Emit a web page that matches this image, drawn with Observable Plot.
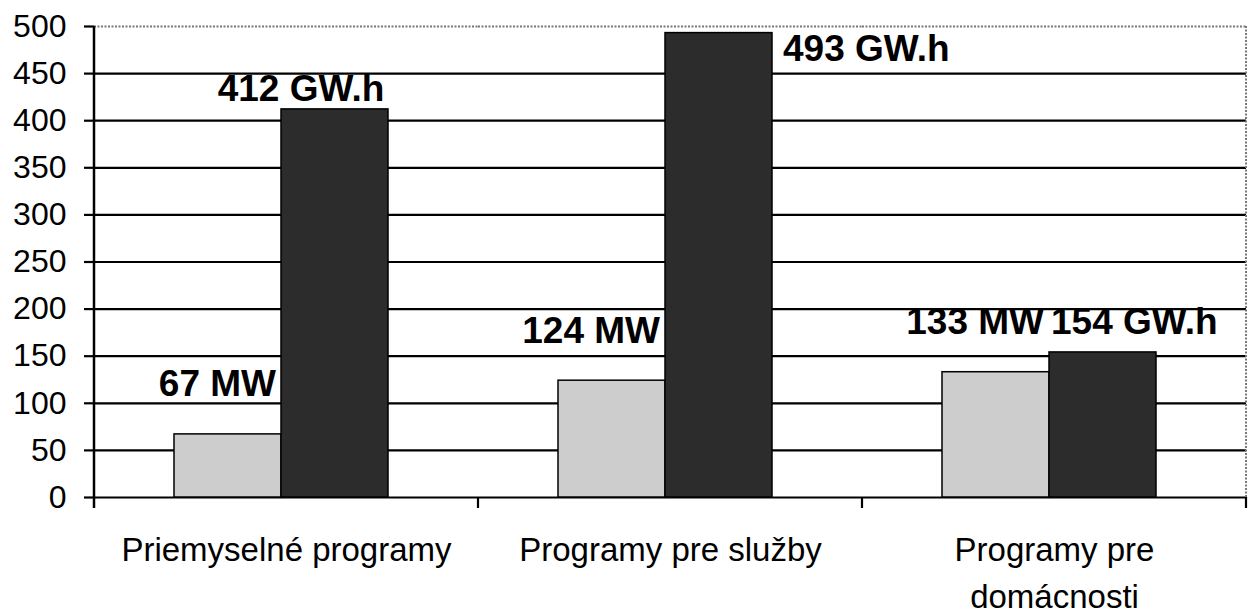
<!DOCTYPE html>
<html>
<head>
<meta charset="utf-8">
<script src="https://cdn.jsdelivr.net/npm/d3@7"></script>
<script src="https://cdn.jsdelivr.net/npm/@observablehq/plot@0.6"></script>
<style>
  html, body { margin: 0; padding: 0; background: #fff; }
</style>
</head>
<body>
<div id="chart"></div>
<script>
const categories = ["Priemyselné programy", "Programy pre služby", "Programy pre domácnosti"];
const categoryTickLabels = ["Priemyselné programy", "Programy pre služby", "Programy pre\ndomácnosti"];
const series = ["MW", "GW.h"];
const mwValues = [67, 124, 133];
const gwhValues = [412, 493, 154];
const yTicks = [0, 50, 100, 150, 200, 250, 300, 350, 400, 450, 500];

const mwData = categories.map((c, i) => ({cat: c, series: "MW", value: mwValues[i], label: `${mwValues[i]} MW`}));
const gwhData = categories.map((c, i) => ({cat: c, series: "GW.h", value: gwhValues[i], other: mwValues[i], label: `${gwhValues[i]} GW.h`}));
const data = mwData.concat(gwhData);
const yMax = yTicks[yTicks.length - 1];

const font = "'Liberation Sans', Arial, sans-serif";
const labelStyle = {fontWeight: "bold", fontSize: 37};

// label placement rules
const isTall = d => d.value >= yMax * 0.9;
const isNear = d => !isTall(d) && Math.abs(d.value - d.other) < 60;
const isNormal = d => !isTall(d) && !isNear(d);

const plot = Plot.plot({
  width: 1259,
  height: 614,
  marginLeft: 93,
  marginRight: 12,
  marginTop: 26,
  marginBottom: 117,
  style: {fontFamily: font, background: "#fff", color: "#000", overflow: "visible"},
  fx: {domain: categories, padding: 0, label: null},
  x: {domain: series, paddingInner: 0, paddingOuter: 0.78, align: 0.47, axis: null},
  y: {domain: [0, yMax], label: null},
  color: {domain: series, range: ["#cdcdcd", "#2c2c2c"]},
  marks: [
    Plot.ruleY(yTicks.filter(d => d < yMax), {stroke: "#000", strokeWidth: 2.2}),
    Plot.ruleY([yMax], {stroke: "#777", strokeWidth: 2, strokeDasharray: "2,1.5"}),
    Plot.barY(data, {fx: "cat", x: "series", y: "value", fill: "series", stroke: "#000", strokeWidth: 1.5}),
    Plot.axisY({ticks: yTicks, tickSize: 10, tickPadding: 18, fontSize: 32, label: null, strokeWidth: 2.2}),
    Plot.axisFx({anchor: "bottom", tickSize: 0, tickPadding: 30, fontSize: 33, lineHeight: 1.42, label: null,
      tickFormat: d => categoryTickLabels[categories.indexOf(d)]}),
    Plot.text(mwData, {fx: "cat", x: "series", y: "value", text: "label", dx: 48, dy: -50,
      textAnchor: "end", ...labelStyle}),
    Plot.text(gwhData.filter(isNormal), {fx: "cat", x: "series", y: "value", text: "label", dx: -34, dy: -20,
      ...labelStyle}),
    Plot.text(gwhData.filter(isNear), {fx: "cat", x: "series", y: "value", text: "label", dx: -52, dy: -30,
      textAnchor: "start", ...labelStyle}),
    Plot.text(gwhData.filter(isTall), {fx: "cat", x: "series", y: "value", text: "label", dx: 64, dy: 16,
      textAnchor: "start", ...labelStyle})
  ]
});

document.getElementById("chart").appendChild(plot);

// axis line, category boundary ticks and right border, positioned from Plot's own scales
const svg = d3.select(plot);
const fx = plot.scale("fx");
const y = plot.scale("y");
const y0 = y.apply(0), yTop = y.apply(yMax);
const left = fx.apply(categories[0]);
const g = svg.append("g");
categories.forEach(c => {
  const xr = fx.apply(c) + fx.bandwidth;
  g.append("line").attr("x1", xr).attr("x2", xr).attr("y1", y0).attr("y2", y0 + 11)
    .attr("stroke", "#000").attr("stroke-width", 2.2);
});
const right = fx.apply(categories[categories.length - 1]) + fx.bandwidth;
g.append("line").attr("x1", right).attr("x2", right).attr("y1", yTop).attr("y2", y0)
  .attr("stroke", "#777").attr("stroke-width", 2).attr("stroke-dasharray", "2,1.5");
g.append("line").attr("x1", left).attr("x2", left).attr("y1", yTop).attr("y2", y0 + 11)
  .attr("stroke", "#000").attr("stroke-width", 2.5);
</script>
</body>
</html>
